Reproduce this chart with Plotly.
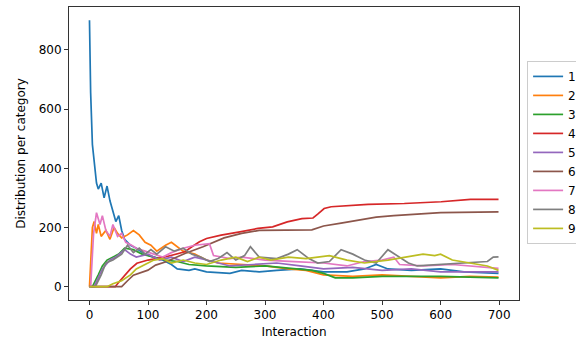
import plotly.graph_objects as go

categories = ["1", "2", "3", "4", "5", "6", "7", "8", "9"]
colors = ["#1f77b4", "#ff7f0e", "#2ca02c", "#d62728", "#9467bd",
          "#8c564b", "#e377c2", "#7f7f7f", "#bcbd22"]

x_ticks = [0, 100, 200, 300, 400, 500, 600, 700]
y_ticks = [0, 200, 400, 600, 800]

# breakpoints (interaction, count)
s1_x = [0, 2, 5, 8, 12, 15, 20, 25, 30, 35, 40, 45, 50, 55, 60, 70, 80, 95, 110, 125, 140, 150,
        170, 180, 200, 240, 260, 290, 320, 360, 400, 440, 470, 490, 510, 550, 600, 640, 699]
s1_y = [900, 655, 480, 420, 350, 330, 350, 300, 340, 290, 250, 220, 240, 190, 160, 140, 130, 110,
        100, 90, 75, 60, 55, 60, 50, 45, 55, 50, 55, 60, 50, 50, 60, 75, 60, 55, 60, 50, 45]

s2_x = [0, 5, 8, 12, 15, 20, 28, 35, 42, 48, 55, 65, 75, 85, 95, 105, 115, 130, 140, 160, 180,
        200, 220, 260, 300, 340, 370, 400, 450, 500, 550, 600, 650, 699]
s2_y = [0, 200, 220, 180, 210, 170, 190, 160, 200, 180, 165, 175, 190, 175, 150, 140, 120, 140,
        150, 120, 110, 90, 80, 75, 70, 60, 55, 40, 35, 40, 35, 30, 35, 32]

s3_x = [0, 5, 15, 22, 30, 40, 50, 60, 75, 90, 110, 130, 150, 170, 200, 250, 300, 350, 380, 400,
        420, 450, 500, 600, 699]
s3_y = [0, 0, 40, 70, 90, 100, 110, 130, 125, 110, 100, 90, 85, 75, 70, 65, 70, 60, 55, 45,
        30, 30, 35, 35, 30]

s4_x = [0, 44, 50, 63, 70, 81, 90, 100, 131, 150, 163, 175, 188, 200, 225, 257, 288, 313, 338,
        363, 382, 390, 401, 413, 476, 538, 601, 651, 699]
s4_y = [0, 0, 15, 45, 60, 79, 85, 90, 101, 110, 118, 135, 152, 163, 174, 185, 197, 202, 219,
        230, 232, 245, 264, 270, 278, 281, 287, 295, 295]

s5_x = [0, 8, 15, 22, 35, 45, 60, 70, 80, 100, 120, 140, 160, 180, 200, 240, 280, 320, 360, 400,
        450, 500, 550, 600, 699]
s5_y = [0, 0, 30, 60, 90, 100, 125, 110, 100, 110, 90, 100, 85, 100, 90, 70, 75, 80, 70, 60,
        65, 55, 60, 50, 50]

s6_x = [0, 55, 65, 75, 100, 113, 131, 163, 194, 200, 230, 260, 290, 380, 400, 430, 460, 490,
        520, 560, 600, 699]
s6_y = [0, 0, 20, 39, 56, 73, 84, 112, 135, 140, 165, 180, 190, 192, 205, 215, 225, 235,
        240, 245, 250, 253]

s7_x = [0, 2, 7, 12, 18, 22, 28, 35, 40, 48, 55, 62, 72, 80, 95, 110, 125, 140, 160, 180, 205,
        212, 240, 260, 300, 350, 400, 440, 470, 500, 520, 530, 570, 620, 680, 699]
s7_y = [0, 0, 180, 250, 210, 240, 190, 170, 210, 170, 180, 150, 140, 130, 120, 110, 100, 115,
        130, 140, 145, 105, 95, 100, 90, 85, 80, 70, 85, 90, 100, 75, 70, 75, 65, 62]

s8_x = [0, 10, 20, 28, 40, 55, 65, 75, 85, 95, 105, 115, 130, 145, 160, 175, 190, 205, 220,
        235, 250, 265, 275, 290, 320, 340, 355, 375, 390, 410, 430, 450, 470, 490, 510, 530,
        545, 560, 600, 650, 680, 690, 699]
s8_y = [0, 0, 40, 80, 90, 110, 140, 115, 130, 110, 125, 110, 135, 120, 130, 110, 100, 85, 95,
        115, 90, 105, 135, 100, 95, 110, 125, 95, 80, 85, 125, 110, 90, 80, 125, 100,
        80, 70, 75, 80, 85, 100, 101]

s9_x = [0, 30, 40, 55, 70, 80, 95, 110, 125, 140, 160, 180, 200, 225, 250, 270, 290, 310, 340,
        370, 390, 410, 440, 470, 510, 540, 570, 590, 600, 620, 650, 680, 699]
s9_y = [0, 0, 10, 20, 40, 60, 75, 90, 95, 80, 90, 80, 75, 90, 100, 85, 100, 90, 100, 95, 100,
        105, 90, 80, 90, 100, 110, 105, 110, 90, 80, 70, 55]

series_x = [s1_x, s2_x, s3_x, s4_x, s5_x, s6_x, s7_x, s8_x, s9_x]
series_y = [s1_y, s2_y, s3_y, s4_y, s5_y, s6_y, s7_y, s8_y, s9_y]

fig = go.Figure()
for name, col, xs, ys in zip(categories, colors, series_x, series_y):
    fig.add_trace(go.Scatter(x=xs, y=ys, mode="lines", name=name,
                             line=dict(color=col, width=1.7)))

font = dict(family="DejaVu Sans", size=12, color="#000000")
axis_common = dict(showgrid=False, zeroline=False, showline=True, mirror=True,
                   linecolor="#333333", linewidth=1, ticks="outside", ticklen=4,
                   tickcolor="#333333", tickfont=font)

fig.update_layout(
    width=576, height=345, autosize=False,
    margin=dict(l=69, r=57, t=7, b=45, autoexpand=False),
    paper_bgcolor="white", plot_bgcolor="white",
    font=font,
    xaxis=dict(range=[-35, 734], tickvals=x_ticks,
               title=dict(text="Interaction", font=font, standoff=6), **axis_common),
    yaxis=dict(range=[-45, 945], tickvals=y_ticks,
               title=dict(text="Distribution per category", font=font, standoff=10), **axis_common),
    legend=dict(x=1.018, y=0.816, xanchor="left", yanchor="top",
                bordercolor="#cccccc", borderwidth=1, bgcolor="white",
                font=dict(family="DejaVu Sans", size=12, color="#000000"),
                tracegroupgap=0),
    showlegend=True,
)

fig.write_html("out.html")
